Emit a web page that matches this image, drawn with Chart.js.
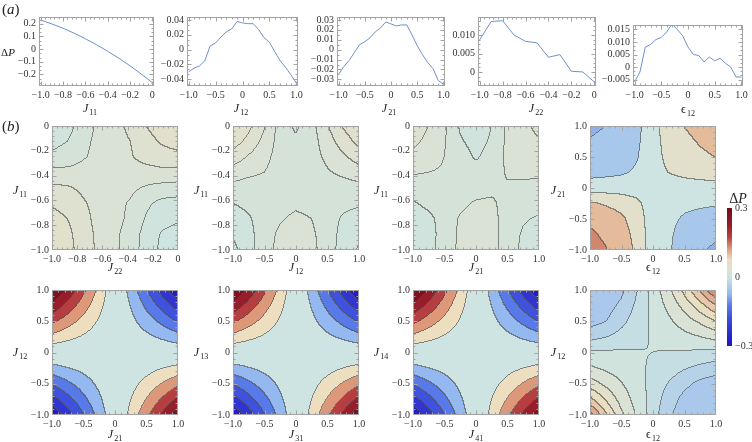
<!DOCTYPE html>
<html>
<head>
<meta charset="utf-8">
<script src="https://cdn.jsdelivr.net/npm/chart.js@4.4.1/dist/chart.umd.min.js"></script>
<style>
  html, body { margin: 0; padding: 0; background: #fff; }
  #page { position: relative; width: 752px; height: 442px; overflow: hidden;
          font-family: "Liberation Serif", "DejaVu Serif", serif; color: #222; }
  #page canvas { position: absolute; }
  .lbl { position: absolute; font-size: 12px; line-height: 1; white-space: nowrap;
         transform: translate(-50%, -50%); }
  .lbl sub { font-size: 8px; vertical-align: baseline; position: relative; top: 3px; margin-left: 1px; }
  .tag { position: absolute; font-size: 15px; line-height: 1; }
</style>
</head>
<body>
<div id="page"></div>
<script>
// ---- (a) one-parameter scans ----
const xHalf = [-1.0, -0.9, -0.8, -0.7, -0.6, -0.5, -0.4, -0.3, -0.2, -0.1, 0.0];
const xFull = [-1.0, -0.9, -0.8, -0.7, -0.6, -0.5, -0.4, -0.3, -0.2, -0.1, 0.0,
               0.1, 0.2, 0.3, 0.4, 0.5, 0.6, 0.7, 0.8, 0.9, 1.0];
const dpJ11 = [0.230, 0.199, 0.165, 0.126, 0.082, 0.035, -0.017, -0.072, -0.132, -0.197, -0.265];
const dpJ12 = [-0.030, -0.025, -0.022, -0.015, 0.005, 0.009, 0.017, 0.024, 0.028, 0.038, 0.036,
               0.035, 0.035, 0.027, 0.016, 0.010, -0.003, -0.015, -0.024, -0.034, -0.045];
const dpJ21 = [-0.025, -0.017, -0.011, -0.003, 0.005, 0.008, 0.012, 0.018, 0.022, 0.028, 0.026,
               0.024, 0.025, 0.025, 0.015, 0.004, -0.005, -0.013, -0.019, -0.031, -0.035];
const dpJ22 = [0.0087, 0.0137, 0.0139, 0.0100, 0.0083, 0.0079, 0.0040, 0.0047, 0.0002, 0.0000, -0.0027];
const dpE12 = [-0.0060, -0.0020, 0.0080, 0.0090, 0.0110, 0.0118, 0.0140, 0.0172, 0.0150, 0.0125, 0.0080,
               0.0050, 0.0046, 0.0020, 0.0040, 0.0025, 0.0035, 0.0015, 0.0000, -0.0040, -0.0040];

// tick values
const ticksHalf = [-1.0, -0.8, -0.6, -0.4, -0.2, 0];
const ticksFull = [-1.0, -0.5, 0, 0.5, 1.0];
const ticksY11 = [-0.2, -0.1, 0, 0.1, 0.2];
const ticksY12 = [-0.04, -0.02, 0, 0.02, 0.04];
const ticksY21 = [-0.03, -0.02, -0.01, 0, 0.01, 0.02, 0.03];
const ticksY22 = [0, 0.005, 0.010];
const ticksYE12 = [-0.005, 0, 0.005, 0.010, 0.015];
const ticksBar = [-0.3, 0, 0.3];

// ---- (b) contour grids (rows top -> bottom) ----
const gHalf = [-1, -0.875, -0.75, -0.625, -0.5, -0.375, -0.25, -0.125, 0];
const gHalfDown = [0, -0.125, -0.25, -0.375, -0.5, -0.625, -0.75, -0.875, -1];
const gFull = [-1, -0.75, -0.5, -0.25, 0, 0.25, 0.5, 0.75, 1];
const gFullDown = [1, 0.75, 0.5, 0.25, 0, -0.25, -0.5, -0.75, -1];

const gridJ22J11 = [
  [0.008, 0.011, 0.020, 0.027, 0.032, 0.037, 0.045, 0.050, 0.052],
  [0.012, 0.015, 0.022, 0.028, 0.032, 0.035, 0.042, 0.046, 0.048],
  [0.017, 0.019, 0.024, 0.028, 0.031, 0.034, 0.039, 0.042, 0.043],
  [0.028, 0.028, 0.029, 0.030, 0.030, 0.031, 0.031, 0.032, 0.032],
  [0.037, 0.036, 0.033, 0.031, 0.029, 0.027, 0.024, 0.022, 0.021],
  [0.044, 0.042, 0.036, 0.032, 0.028, 0.024, 0.017, 0.012, 0.011],
  [0.048, 0.045, 0.038, 0.032, 0.028, 0.023, 0.014, 0.008, 0.006],
  [0.051, 0.048, 0.039, 0.033, 0.027, 0.021, 0.011, 0.004, 0.002],
  [0.052, 0.049, 0.040, 0.033, 0.027, 0.021, 0.010, 0.003, 0.000]
];
const gridJ12J11 = [
  [0.055, 0.048, 0.036, 0.021, 0.013, 0.021, 0.034, 0.046, 0.053],
  [0.050, 0.042, 0.032, 0.021, 0.017, 0.021, 0.030, 0.040, 0.048],
  [0.041, 0.034, 0.028, 0.021, 0.019, 0.021, 0.027, 0.033, 0.040],
  [0.030, 0.027, 0.025, 0.021, 0.020, 0.021, 0.024, 0.027, 0.030],
  [0.022, 0.021, 0.021, 0.021, 0.021, 0.021, 0.021, 0.021, 0.022],
  [0.015, 0.017, 0.019, 0.022, 0.023, 0.022, 0.019, 0.017, 0.016],
  [0.011, 0.014, 0.019, 0.024, 0.027, 0.025, 0.019, 0.014, 0.012],
  [0.006, 0.012, 0.020, 0.027, 0.030, 0.027, 0.020, 0.012, 0.007],
  [0.002, 0.011, 0.021, 0.028, 0.031, 0.028, 0.020, 0.011, 0.004]
];
const gridJ21J11 = [
  [0.042, 0.035, 0.027, 0.014, 0.010, 0.015, 0.027, 0.032, 0.038],
  [0.038, 0.032, 0.026, 0.016, 0.012, 0.016, 0.027, 0.031, 0.034],
  [0.032, 0.029, 0.025, 0.019, 0.014, 0.018, 0.027, 0.029, 0.030],
  [0.026, 0.025, 0.024, 0.021, 0.018, 0.020, 0.026, 0.027, 0.027],
  [0.020, 0.021, 0.021, 0.021, 0.021, 0.022, 0.024, 0.023, 0.022],
  [0.014, 0.017, 0.020, 0.023, 0.026, 0.027, 0.021, 0.019, 0.018],
  [0.011, 0.013, 0.018, 0.026, 0.028, 0.029, 0.020, 0.016, 0.014],
  [0.009, 0.012, 0.018, 0.027, 0.029, 0.029, 0.020, 0.014, 0.011],
  [0.008, 0.012, 0.019, 0.027, 0.029, 0.029, 0.020, 0.013, 0.010]
];
const gridE12J21 = [
  [-0.085, -0.075, -0.061, -0.038, 0.005, 0.053, 0.076, 0.092, 0.105],
  [-0.072, -0.064, -0.052, -0.033, 0.004, 0.045, 0.064, 0.079, 0.089],
  [-0.061, -0.054, -0.044, -0.028, 0.004, 0.038, 0.054, 0.067, 0.076],
  [-0.043, -0.037, -0.031, -0.019, 0.003, 0.026, 0.038, 0.046, 0.053],
  [0.002, 0.001, 0.001, 0.000, 0.000, 0.001, 0.002, 0.003, 0.004],
  [0.080, 0.070, 0.057, 0.036, -0.002, -0.010, -0.015, -0.018, -0.020],
  [0.116, 0.102, 0.084, 0.052, -0.003, -0.015, -0.030, -0.038, -0.045],
  [0.133, 0.117, 0.096, 0.060, -0.004, -0.018, -0.040, -0.055, -0.065],
  [0.145, 0.128, 0.104, 0.065, -0.004, -0.020, -0.045, -0.068, -0.085]
];
const gridJ21J12 = [
  [0.318, 0.241, 0.164, 0.087, 0.009, -0.068, -0.145, -0.222, -0.300],
  [0.241, 0.183, 0.124, 0.066, 0.007, -0.051, -0.110, -0.168, -0.227],
  [0.164, 0.124, 0.084, 0.045, 0.005, -0.035, -0.075, -0.114, -0.154],
  [0.087, 0.066, 0.045, 0.024, 0.003, -0.018, -0.039, -0.060, -0.081],
  [0.009, 0.007, 0.005, 0.003, 0.000, -0.002, -0.004, -0.006, -0.009],
  [-0.068, -0.051, -0.035, -0.018, -0.002, 0.015, 0.031, 0.048, 0.064],
  [-0.145, -0.110, -0.075, -0.039, -0.004, 0.031, 0.066, 0.102, 0.137],
  [-0.222, -0.168, -0.114, -0.060, -0.006, 0.048, 0.102, 0.156, 0.210],
  [-0.300, -0.227, -0.154, -0.081, -0.009, 0.064, 0.137, 0.210, 0.282]
];
const gridJ31J13 = [
  [0.312, 0.238, 0.162, 0.085, 0.008, -0.070, -0.147, -0.225, -0.303],
  [0.237, 0.180, 0.122, 0.064, 0.006, -0.053, -0.112, -0.170, -0.229],
  [0.161, 0.122, 0.083, 0.044, 0.004, -0.036, -0.076, -0.116, -0.156],
  [0.085, 0.064, 0.044, 0.023, 0.002, -0.019, -0.040, -0.061, -0.082],
  [0.008, 0.006, 0.004, 0.002, 0.000, -0.002, -0.004, -0.006, -0.008],
  [-0.069, -0.052, -0.036, -0.019, -0.002, 0.015, 0.032, 0.049, 0.066],
  [-0.146, -0.111, -0.076, -0.040, -0.004, 0.032, 0.068, 0.104, 0.140],
  [-0.223, -0.169, -0.115, -0.061, -0.006, 0.049, 0.104, 0.159, 0.214],
  [-0.300, -0.227, -0.154, -0.082, -0.008, 0.066, 0.140, 0.213, 0.287]
];
const gridJ41J14 = [
  [0.322, 0.244, 0.166, 0.088, 0.010, -0.067, -0.144, -0.221, -0.298],
  [0.244, 0.185, 0.126, 0.067, 0.008, -0.050, -0.109, -0.167, -0.226],
  [0.166, 0.126, 0.086, 0.046, 0.006, -0.034, -0.074, -0.113, -0.153],
  [0.088, 0.067, 0.046, 0.025, 0.004, -0.017, -0.038, -0.059, -0.080],
  [0.010, 0.008, 0.006, 0.004, 0.001, -0.001, -0.003, -0.005, -0.007],
  [-0.067, -0.050, -0.034, -0.017, -0.001, 0.016, 0.032, 0.049, 0.065],
  [-0.144, -0.109, -0.074, -0.038, -0.003, 0.032, 0.067, 0.103, 0.138],
  [-0.221, -0.167, -0.113, -0.059, -0.005, 0.049, 0.103, 0.157, 0.211],
  [-0.298, -0.226, -0.153, -0.080, -0.008, 0.065, 0.138, 0.211, 0.284]
];
const gridE12J12 = [
  [-0.055, -0.052, -0.045, -0.021, 0.008, 0.034, 0.066, 0.102, 0.144],
  [-0.053, -0.049, -0.036, -0.016, 0.006, 0.025, 0.047, 0.072, 0.099],
  [-0.048, -0.041, -0.026, -0.010, 0.004, 0.016, 0.030, 0.044, 0.060],
  [-0.028, -0.021, -0.013, -0.006, 0.002, 0.008, 0.014, 0.020, 0.027],
  [0.004, 0.003, 0.002, 0.001, 0.000, -0.001, -0.002, -0.003, -0.004],
  [0.023, 0.016, 0.010, 0.004, -0.003, -0.010, -0.018, -0.025, -0.031],
  [0.050, 0.035, 0.021, 0.008, -0.006, -0.021, -0.035, -0.045, -0.050],
  [0.085, 0.058, 0.032, 0.012, -0.008, -0.030, -0.046, -0.052, -0.055],
  [0.130, 0.085, 0.045, 0.017, -0.010, -0.037, -0.050, -0.055, -0.056]
];

const levelsSmall = [0.005, 0.015, 0.025, 0.035, 0.045, 0.055];
const levelsE12J21 = [-0.075, -0.025, 0.025, 0.075, 0.125];
const levelsSaddle = [-0.25, -0.2, -0.15, -0.1, -0.05, 0.05, 0.1, 0.15, 0.2, 0.25];
const levelsE12J12 = [-0.04, -0.02, 0, 0.02, 0.04, 0.06, 0.08, 0.1, 0.12];

// colour legend range
const barMin = -0.3, barMax = 0.3;
const colorStops = [
  [0.00, [32, 22, 190]], [0.04, [36, 28, 198]], [0.125, [48, 52, 210]],
  [0.208, [62, 82, 222]], [0.292, [88, 122, 232]], [0.375, [148, 184, 240]],
  [0.5, [205, 228, 226]], [0.625, [236, 222, 190]], [0.708, [220, 152, 120]],
  [0.79, [182, 64, 64]], [0.875, [150, 30, 42]], [1.0, [115, 12, 28]]
];

function colorAt(v) {
  const t = Math.max(0, Math.min(1, (v - barMin) / (barMax - barMin)));
  for (let i = 1; i < colorStops.length; i++) {
    if (t <= colorStops[i][0]) {
      const a = colorStops[i - 1], b = colorStops[i];
      const f = (t - a[0]) / (b[0] - a[0]);
      return [0, 1, 2].map(k => Math.round(a[1][k] + f * (b[1][k] - a[1][k])));
    }
  }
  return colorStops[colorStops.length - 1][1];
}

const fmt = dec => v => Math.abs(v) < 1e-9 ? '0' : (v < 0 ? '\u2212' : '') + Math.abs(v).toFixed(dec);

Chart.defaults.font.family = "'Liberation Serif', 'Times New Roman', serif";
Chart.defaults.font.size = 10;
Chart.defaults.color = '#333';
Chart.defaults.animation = false;
Chart.defaults.events = [];
Chart.defaults.plugins.legend.display = false;
Chart.defaults.plugins.tooltip.enabled = false;

const page = document.getElementById('page');
const PAD_T = 8, PAD_R = 10;

function makeCanvas(left, top, w, h, yW, xH) {
  const c = document.createElement('canvas');
  c.width = yW + w + PAD_R;
  c.height = PAD_T + h + xH;
  c.style.left = (left - yW) + 'px';
  c.style.top = (top - PAD_T) + 'px';
  page.appendChild(c);
  return c;
}

// frame with inward ticks on all four sides
const framePlugin = {
  id: 'frame',
  afterDraw(chart) {
    const { ctx, chartArea: a, scales } = chart;
    const l = Math.round(a.left) + 0.5, r = Math.round(a.right) - 0.5;
    const t = Math.round(a.top) + 0.5, b = Math.round(a.bottom) - 0.5;
    ctx.save();
    ctx.strokeStyle = '#a3a3a3';
    ctx.lineWidth = 1;
    ctx.strokeRect(l, t, r - l, b - t);
    ctx.beginPath();
    [scales.x, scales.y].forEach(sc => {
      const vals = sc.ticks.map(k => k.value);
      const step = vals[1] - vals[0];
      const pxStep = Math.abs(sc.getPixelForValue(vals[1]) - sc.getPixelForValue(vals[0]));
      const n = Math.max(1, Math.min(5, Math.floor(pxStep / 4)));
      const minor = step / n;
      const k0 = Math.ceil((sc.min - vals[0]) / minor - 1e-6);
      const k1 = Math.floor((sc.max - vals[0]) / minor + 1e-6);
      for (let k = k0; k <= k1; k++) {
        const len = (k % n === 0) ? 4 : 2;
        let p = Math.round(sc.getPixelForValue(vals[0] + k * minor)) + 0.5;
        if (sc.isHorizontal()) {
          p = Math.max(l, Math.min(r, p));
          ctx.moveTo(p, b); ctx.lineTo(p, b - len);
          ctx.moveTo(p, t); ctx.lineTo(p, t + len);
        } else {
          p = Math.max(t, Math.min(b, p));
          ctx.moveTo(l, p); ctx.lineTo(l + len, p);
          ctx.moveTo(r, p); ctx.lineTo(r - len, p);
        }
      }
    });
    ctx.stroke();
    ctx.restore();
  }
};

function axis(min, max, ticks, dec, size, horizontal) {
  return {
    type: 'linear', min: min, max: max,
    grid: { display: false, drawTicks: false },
    border: { display: false },
    ticks: { callback: fmt(dec), padding: 3, autoSkip: false, maxRotation: 0 },
    afterBuildTicks: s => { s.ticks = ticks.map(v => ({ value: v })); },
    afterFit: s => { if (horizontal) s.height = size; else s.width = size; }
  };
}

function lineChart(box, xs, ys, xr, xt, xDec, yr, yt, yDec) {
  const c = makeCanvas(box[0], box[1], box[2], box[3], 40, 16);
  new Chart(c, {
    type: 'line',
    data: { datasets: [{ data: xs.map((x, i) => ({ x: x, y: ys[i] })),
      borderColor: '#6f90cc', borderWidth: 1, pointRadius: 0, tension: 0 }] },
    options: {
      responsive: false,
      layout: { padding: { top: PAD_T, right: PAD_R, left: 0, bottom: 0 } },
      scales: { x: axis(xr[0], xr[1], xt, xDec, 16, true), y: axis(yr[0], yr[1], yt, yDec, 40, false) }
    },
    plugins: [framePlugin]
  });
}

function sampler(gx, gy, grid) {
  const nx = gx.length, ny = gy.length;
  const dx = gx[1] - gx[0], dy = gy[1] - gy[0];
  return (x, y) => {
    const fi = Math.max(0, Math.min(nx - 1, (x - gx[0]) / dx));
    const fj = Math.max(0, Math.min(ny - 1, (y - gy[0]) / dy));
    const i = Math.min(nx - 2, Math.floor(fi)), j = Math.min(ny - 2, Math.floor(fj));
    const u = fi - i, w = fj - j;
    const r0 = grid[j], r1 = grid[j + 1];
    return (r0[i] * (1 - u) + r0[i + 1] * u) * (1 - w) + (r1[i] * (1 - u) + r1[i + 1] * u) * w;
  };
}

function contourPlugin(gx, gy, grid, levels) {
  const sample = sampler(gx, gy, grid);
  const flat = grid.flat();
  const lo = Math.min(...flat), hi = Math.max(...flat);
  const step = levels[1] - levels[0];
  const bandCol = [];
  for (let k = 0; k <= levels.length; k++) {
    // outer bands take the midpoint between the last level and the extreme of the grid
    const a = k === 0 ? Math.max(lo, levels[0] - step) : levels[k - 1];
    const b = k === levels.length ? Math.min(hi, levels[levels.length - 1] + step) : levels[k];
    bandCol.push(colorAt((a + b) / 2));
  }
  const lineCol = [80, 80, 80];
  return {
    id: 'contour',
    beforeDatasetsDraw(chart) {
      const { ctx, chartArea: area, scales: { x, y } } = chart;
      const L = Math.round(area.left), T = Math.round(area.top);
      const W = Math.round(area.right) - L, H = Math.round(area.bottom) - T;
      const band = new Int16Array(W * H);
      for (let j = 0; j < H; j++) {
        const yv = y.getValueForPixel(T + j + 0.5);
        for (let i = 0; i < W; i++) {
          const v = sample(x.getValueForPixel(L + i + 0.5), yv);
          let bi = 0;
          while (bi < levels.length && v >= levels[bi]) bi++;
          band[j * W + i] = bi;
        }
      }
      const off = document.createElement('canvas');
      off.width = W; off.height = H;
      const octx = off.getContext('2d');
      const img = octx.createImageData(W, H);
      for (let j = 0; j < H; j++) {
        for (let i = 0; i < W; i++) {
          const idx = j * W + i, bi = band[idx];
          let c = bandCol[bi];
          const edge = (i < W - 1 && band[idx + 1] !== bi) || (j < H - 1 && band[idx + W] !== bi);
          if (edge) c = c.map((ch, k) => Math.round(ch * 0.35 + lineCol[k] * 0.65));
          img.data[idx * 4] = c[0]; img.data[idx * 4 + 1] = c[1];
          img.data[idx * 4 + 2] = c[2]; img.data[idx * 4 + 3] = 255;
        }
      }
      octx.putImageData(img, 0, 0);
      ctx.drawImage(off, L, T);
    }
  };
}

function contourChart(box, gx, gy, grid, levels, xr, xt, xDec, yr, yt, yDec) {
  const c = makeCanvas(box[0], box[1], box[2], box[3], 30, 16);
  new Chart(c, {
    type: 'scatter',
    data: { datasets: [] },
    options: {
      responsive: false,
      layout: { padding: { top: PAD_T, right: PAD_R, left: 0, bottom: 0 } },
      scales: { x: axis(xr[0], xr[1], xt, xDec, 16, true), y: axis(yr[0], yr[1], yt, yDec, 30, false) }
    },
    plugins: [contourPlugin(gx, gy, grid, levels), framePlugin]
  });
}

// ---- row (a) ----
lineChart([39, 16, 115, 70], xHalf, dpJ11, [-1.015, 0.015], ticksHalf, 1, [-0.292, 0.254], ticksY11, 1);
lineChart([187, 16, 111, 70], xFull, dpJ12, [-1.03, 1.03], ticksFull, 1, [-0.049, 0.044], ticksY12, 2);
lineChart([337, 16, 108, 70], xFull, dpJ21, [-1.03, 1.03], ticksFull, 1, [-0.0367, 0.033], ticksY21, 2);
lineChart([478, 16, 118, 70], xHalf, dpJ22, [-1.015, 0.015], ticksHalf, 1, [-0.0038, 0.0149], ticksY22, 3);
lineChart([633, 24, 110, 62], xFull, dpE12, [-1.03, 1.03], ticksFull, 1, [-0.0076, 0.0168], ticksYE12, 3);

// ---- row (b) ----
contourChart([52, 125, 126, 125], gHalf, gHalfDown, gridJ22J11, levelsSmall, [-1, 0], ticksHalf, 1, [-1, 0], ticksHalf, 1);
contourChart([233, 125, 126, 125], gFull, gHalfDown, gridJ12J11, levelsSmall, [-1, 1], ticksFull, 1, [-1, 0], ticksHalf, 1);
contourChart([413, 125, 126, 125], gFull, gHalfDown, gridJ21J11, levelsSmall, [-1, 1], ticksFull, 1, [-1, 0], ticksHalf, 1);
contourChart([590, 125, 126, 125], gFull, gFullDown, gridE12J21, levelsE12J21, [-1, 1], ticksFull, 1, [-1, 1], ticksFull, 1);
contourChart([52, 289, 126, 126], gFull, gFullDown, gridJ21J12, levelsSaddle, [-1, 1], ticksFull, 1, [-1, 1], ticksFull, 1);
contourChart([233, 289, 126, 126], gFull, gFullDown, gridJ31J13, levelsSaddle, [-1, 1], ticksFull, 1, [-1, 1], ticksFull, 1);
contourChart([413, 289, 126, 126], gFull, gFullDown, gridJ41J14, levelsSaddle, [-1, 1], ticksFull, 1, [-1, 1], ticksFull, 1);
contourChart([590, 289, 126, 126], gFull, gFullDown, gridE12J12, levelsE12J12, [-1, 1], ticksFull, 1, [-1, 1], ticksFull, 1);

// ---- colour legend ----
(function () {
  const c = document.createElement('canvas');
  c.width = 29; c.height = 156;
  c.style.left = '727px'; c.style.top = '199px';
  page.appendChild(c);
  new Chart(c, {
    type: 'scatter',
    data: { datasets: [] },
    options: {
      responsive: false,
      layout: { padding: { top: 8, bottom: 8, left: 0, right: 0 } },
      scales: {
        x: { type: 'linear', min: 0, max: 1, display: false },
        y: Object.assign(axis(barMin, barMax, ticksBar, 1, 24, false), { position: 'right' })
      }
    },
    plugins: [{
      id: 'bar',
      beforeDatasetsDraw(chart) {
        const { ctx, chartArea: a, scales: { y } } = chart;
        for (let py = Math.round(a.top); py < Math.round(a.bottom); py++) {
          ctx.fillStyle = 'rgb(' + colorAt(y.getValueForPixel(py + 0.5)).join(',') + ')';
          ctx.fillRect(a.left, py, a.right - a.left, 1);
        }
      }
    }]
  });
})();

// ---- text ----
function label(html, cx, cy, size) {
  const d = document.createElement('div');
  d.className = 'lbl';
  d.innerHTML = html;
  d.style.left = cx + 'px';
  d.style.top = cy + 'px';
  if (size) d.style.fontSize = size + 'px';
  page.appendChild(d);
}
function tag(html, x, y) {
  const d = document.createElement('div');
  d.className = 'tag';
  d.innerHTML = html;
  d.style.left = x + 'px';
  d.style.top = y + 'px';
  page.appendChild(d);
}
const J = s => '<i>J</i><sub>' + s + '</sub>';
const E = s => '\u03f5<sub>' + s + '</sub>';

tag('(<i>a</i>)', 2, 2);
tag('(<i>b</i>)', 2, 119);
label('\u0394<i>P</i>', 8, 52, 11);

label(J('11'), 90, 108); label(J('12'), 241, 108); label(J('21'), 389, 108);
label(J('22'), 536, 108); label(E('12'), 688, 109);

label(J('22'), 115, 267); label(J('12'), 296, 267); label(J('21'), 476, 267); label(E('12'), 653, 267);
label(J('11'), 20, 190); label(J('11'), 201, 190); label(J('11'), 381, 190); label(J('21'), 558, 190);

label(J('12'), 20, 352); label(J('13'), 201, 352); label(J('14'), 381, 352); label(J('12'), 558, 352);
label(J('21'), 115, 434); label(J('31'), 296, 434); label(J('41'), 476, 434); label(E('12'), 653, 434);

label('\u0394<i>P</i>', 738, 199, 14);
</script>
</body>
</html>
